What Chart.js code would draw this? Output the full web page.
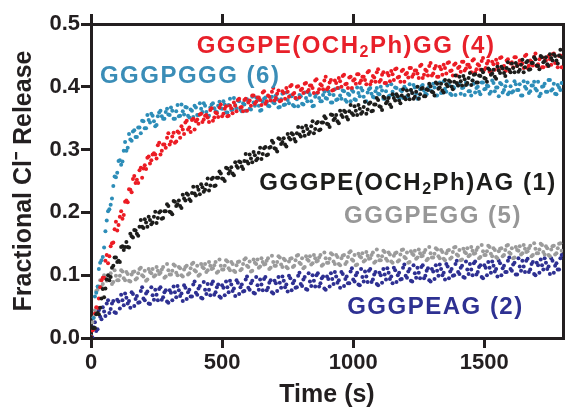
<!DOCTYPE html>
<html>
<head>
<meta charset="utf-8">
<script src="https://cdn.jsdelivr.net/npm/chart.js@4.4.0/dist/chart.umd.min.js"></script>
<style>
  html, body { margin: 0; padding: 0; background: #fff; }
  #c { display: block; }
</style>
</head>
<body>
<canvas id="c" width="567" height="411"></canvas>
<script>
// tempo (s) - primeira leitura
const timeS = [
  0,10,20,30,40,50,60,70,80,90,100,110,120,130,140,150,160,170,180,190,
  200,210,220,230,240,250,260,270,280,290,300,310,320,330,340,350,360,370,380,390,
  400,410,420,430,440,450,460,470,480,490,500,510,520,530,540,550,560,570,580,590,
  600,610,620,630,640,650,660,670,680,690,700,710,720,730,740,750,760,770,780,790,
  800,810,820,830,840,850,860,870,880,890,900,910,920,930,940,950,960,970,980,990,
  1000,1010,1020,1030,1040,1050,1060,1070,1080,1090,1100,1110,1120,1130,1140,1150,1160,1170,1180,1190,
  1200,1210,1220,1230,1240,1250,1260,1270,1280,1290,1300,1310,1320,1330,1340,1350,1360,1370,1380,1390,
  1400,1410,1420,1430,1440,1450,1460,1470,1480,1490,1500,1510,1520,1530,1540,1550,1560,1570,1580,1590,
  1600,1610,1620,1630,1640,1650,1660,1670,1680,1690,1700,1710,1720,1730,1740,1750,1760,1770,1780,1790
];

// tempo (s) - leitura intercalada
const timeS2 = [
  5,15,25,35,45,55,65,75,85,95,105,115,125,135,145,155,165,175,185,195,
  205,215,225,235,245,255,265,275,285,295,305,315,325,335,345,355,365,375,385,395,
  405,415,425,435,445,455,465,475,485,495,505,515,525,535,545,555,565,575,585,595,
  605,615,625,635,645,655,665,675,685,695,705,715,725,735,745,755,765,775,785,795,
  805,815,825,835,845,855,865,875,885,895,905,915,925,935,945,955,965,975,985,995,
  1005,1015,1025,1035,1045,1055,1065,1075,1085,1095,1105,1115,1125,1135,1145,1155,1165,1175,1185,1195,
  1205,1215,1225,1235,1245,1255,1265,1275,1285,1295,1305,1315,1325,1335,1345,1355,1365,1375,1385,1395,
  1405,1415,1425,1435,1445,1455,1465,1475,1485,1495,1505,1515,1525,1535,1545,1555,1565,1575,1585,1595,
  1605,1615,1625,1635,1645,1655,1665,1675,1685,1695,1705,1715,1725,1735,1745,1755,1765,1775,1785,1795
];

// GGGPGGG (6)
const releaseGGGPGGG = [
  0.003,0.032,0.072,0.110,0.124,0.144,0.187,0.205,0.222,0.257,0.263,0.283,0.281,0.312,0.303,0.316,0.329,0.320,0.335,0.326,
  0.345,0.334,0.347,0.357,0.345,0.339,0.359,0.353,0.349,0.365,0.355,0.362,0.349,0.371,0.354,0.361,0.368,0.354,0.364,0.352,
  0.367,0.355,0.365,0.374,0.360,0.354,0.372,0.366,0.360,0.376,0.365,0.372,0.359,0.381,0.364,0.371,0.378,0.364,0.374,0.362,
  0.377,0.364,0.375,0.383,0.370,0.363,0.381,0.375,0.369,0.384,0.374,0.380,0.368,0.389,0.372,0.379,0.386,0.371,0.382,0.369,
  0.385,0.372,0.382,0.391,0.377,0.370,0.389,0.382,0.377,0.392,0.381,0.388,0.375,0.396,0.380,0.386,0.394,0.379,0.389,0.377,
  0.392,0.379,0.390,0.398,0.384,0.377,0.396,0.389,0.383,0.398,0.388,0.394,0.381,0.402,0.386,0.392,0.399,0.384,0.395,0.382,
  0.397,0.384,0.395,0.403,0.389,0.382,0.401,0.394,0.388,0.403,0.393,0.399,0.386,0.407,0.391,0.397,0.404,0.389,0.400,0.387,
  0.402,0.389,0.399,0.407,0.393,0.386,0.405,0.398,0.392,0.407,0.396,0.402,0.389,0.410,0.393,0.399,0.406,0.391,0.401,0.388,
  0.401,0.393,0.404,0.395,0.386,0.409,0.397,0.390,0.402,0.408,0.394,0.385,0.400,0.405,0.392,0.411,0.396,0.389,0.403,0.395
];
const releaseGGGPGGG2 = [
  0.013,0.066,0.082,0.120,0.129,0.170,0.202,0.212,0.242,0.256,0.282,0.276,0.298,0.298,0.325,0.314,0.331,0.320,0.335,0.346,
  0.334,0.355,0.343,0.354,0.337,0.353,0.362,0.349,0.360,0.356,0.367,0.349,0.361,0.353,0.372,0.356,0.367,0.351,0.362,0.370,
  0.355,0.374,0.360,0.370,0.352,0.367,0.374,0.361,0.370,0.366,0.377,0.359,0.371,0.363,0.382,0.366,0.377,0.361,0.372,0.380,
  0.365,0.384,0.370,0.379,0.362,0.376,0.383,0.370,0.379,0.375,0.386,0.367,0.380,0.371,0.391,0.374,0.385,0.369,0.380,0.387,
  0.373,0.391,0.377,0.387,0.369,0.384,0.391,0.377,0.387,0.382,0.393,0.375,0.387,0.379,0.398,0.381,0.393,0.376,0.387,0.395,
  0.380,0.399,0.385,0.394,0.376,0.391,0.398,0.384,0.393,0.389,0.400,0.381,0.393,0.385,0.404,0.387,0.398,0.382,0.393,0.400,
  0.385,0.404,0.390,0.399,0.381,0.396,0.403,0.389,0.398,0.394,0.405,0.386,0.398,0.390,0.409,0.392,0.403,0.387,0.398,0.405,
  0.405,0.398,0.387,0.404,0.393,0.410,0.391,0.400,0.388,0.407,0.397,0.401,0.392,0.406,0.399,0.385,0.404,0.395,0.409,0.391,
  0.391,0.409,0.395,0.404,0.386,0.400,0.407,0.393,0.402,0.397,0.408,0.389,0.401,0.392,0.411,0.394,0.405,0.388,0.399,0.406
];

// GGGPE(OCH2Ph)GG (4)
const releaseBnGG = [
  0.002,0.014,0.049,0.063,0.092,0.096,0.132,0.130,0.151,0.173,0.171,0.193,0.190,0.217,0.216,0.236,0.253,0.247,0.247,0.271,
  0.270,0.269,0.289,0.283,0.294,0.286,0.311,0.298,0.308,0.319,0.308,0.321,0.311,0.329,0.319,0.332,0.343,0.332,0.328,0.349,
  0.345,0.341,0.357,0.348,0.355,0.344,0.366,0.351,0.358,0.367,0.353,0.365,0.353,0.370,0.358,0.370,0.379,0.367,0.361,0.381,
  0.375,0.370,0.386,0.376,0.383,0.371,0.393,0.377,0.384,0.392,0.378,0.389,0.377,0.393,0.381,0.392,0.401,0.388,0.382,0.401,
  0.395,0.390,0.406,0.395,0.402,0.390,0.412,0.396,0.402,0.410,0.396,0.407,0.394,0.410,0.398,0.409,0.417,0.404,0.398,0.416,
  0.410,0.405,0.420,0.410,0.416,0.404,0.425,0.409,0.415,0.423,0.408,0.419,0.406,0.422,0.409,0.420,0.428,0.415,0.408,0.427,
  0.420,0.415,0.430,0.420,0.426,0.414,0.435,0.419,0.425,0.433,0.418,0.429,0.416,0.432,0.419,0.430,0.438,0.425,0.418,0.437,
  0.430,0.424,0.440,0.429,0.435,0.423,0.444,0.428,0.434,0.441,0.427,0.437,0.424,0.440,0.427,0.437,0.446,0.432,0.425,0.444,
  0.437,0.431,0.447,0.436,0.442,0.430,0.451,0.434,0.440,0.448,0.433,0.444,0.431,0.446,0.433,0.444,0.452,0.438,0.431,0.450
];
const releaseBnGG2 = [
  0.012,0.039,0.048,0.081,0.096,0.123,0.119,0.146,0.152,0.185,0.180,0.202,0.196,0.219,0.237,0.232,0.258,0.252,0.267,0.255,
  0.275,0.287,0.278,0.292,0.292,0.307,0.292,0.308,0.303,0.326,0.313,0.327,0.313,0.327,0.337,0.325,0.346,0.335,0.347,0.332,
  0.348,0.356,0.344,0.354,0.351,0.363,0.346,0.359,0.352,0.372,0.357,0.369,0.354,0.366,0.375,0.361,0.381,0.368,0.379,0.362,
  0.378,0.386,0.373,0.383,0.379,0.391,0.373,0.386,0.378,0.398,0.382,0.394,0.378,0.390,0.398,0.384,0.403,0.390,0.400,0.383,
  0.397,0.405,0.392,0.402,0.398,0.410,0.391,0.404,0.396,0.416,0.399,0.411,0.395,0.406,0.414,0.400,0.419,0.405,0.415,0.398,
  0.412,0.420,0.406,0.416,0.411,0.423,0.404,0.417,0.408,0.428,0.411,0.423,0.406,0.418,0.425,0.411,0.429,0.416,0.425,0.408,
  0.422,0.430,0.416,0.426,0.421,0.433,0.414,0.427,0.418,0.438,0.421,0.433,0.416,0.428,0.435,0.421,0.439,0.426,0.435,0.418,
  0.432,0.440,0.426,0.435,0.431,0.442,0.423,0.436,0.427,0.446,0.430,0.441,0.424,0.436,0.443,0.428,0.447,0.433,0.442,0.425,
  0.439,0.447,0.433,0.442,0.437,0.449,0.430,0.442,0.434,0.453,0.436,0.448,0.431,0.442,0.449,0.435,0.453,0.439,0.449,0.431
];

// GGGPE(OCH2Ph)AG (1)
const releaseBnAG = [
  0.001,0.016,0.038,0.038,0.063,0.065,0.093,0.092,0.112,0.128,0.121,0.121,0.146,0.145,0.145,0.166,0.160,0.171,0.163,0.188,
  0.175,0.184,0.193,0.181,0.193,0.183,0.200,0.190,0.202,0.213,0.201,0.197,0.217,0.213,0.210,0.228,0.219,0.228,0.218,0.241,
  0.227,0.236,0.245,0.233,0.245,0.235,0.253,0.242,0.255,0.265,0.254,0.250,0.270,0.266,0.262,0.280,0.271,0.280,0.269,0.293,
  0.278,0.286,0.296,0.283,0.295,0.285,0.302,0.291,0.303,0.314,0.302,0.297,0.317,0.312,0.308,0.325,0.316,0.324,0.313,0.336,
  0.321,0.329,0.338,0.325,0.337,0.326,0.342,0.331,0.343,0.353,0.341,0.336,0.355,0.350,0.345,0.362,0.352,0.360,0.348,0.371,
  0.355,0.362,0.371,0.357,0.368,0.357,0.373,0.361,0.372,0.382,0.369,0.363,0.382,0.377,0.372,0.388,0.378,0.385,0.374,0.396,
  0.380,0.387,0.395,0.381,0.392,0.381,0.397,0.385,0.396,0.405,0.392,0.386,0.405,0.399,0.394,0.411,0.401,0.408,0.396,0.418,
  0.402,0.409,0.417,0.403,0.414,0.403,0.419,0.407,0.418,0.427,0.414,0.408,0.427,0.421,0.416,0.432,0.422,0.429,0.417,0.439,
  0.423,0.430,0.438,0.424,0.435,0.423,0.439,0.427,0.438,0.447,0.434,0.428,0.447,0.441,0.436,0.452,0.442,0.449,0.437,0.459
];
const releaseBnAG2 = [
  0.016,0.016,0.040,0.048,0.078,0.079,0.100,0.097,0.115,0.128,0.123,0.145,0.140,0.153,0.144,0.162,0.172,0.166,0.177,0.177,
  0.189,0.177,0.188,0.184,0.201,0.191,0.202,0.191,0.202,0.210,0.200,0.218,0.210,0.219,0.207,0.222,0.230,0.221,0.231,0.230,
  0.241,0.229,0.240,0.236,0.254,0.243,0.255,0.243,0.255,0.262,0.253,0.271,0.262,0.272,0.259,0.274,0.281,0.273,0.282,0.281,
  0.292,0.280,0.291,0.286,0.303,0.293,0.304,0.292,0.304,0.311,0.301,0.318,0.309,0.318,0.305,0.319,0.326,0.317,0.326,0.324,
  0.335,0.322,0.333,0.328,0.345,0.333,0.344,0.332,0.343,0.350,0.340,0.356,0.347,0.355,0.342,0.355,0.362,0.352,0.361,0.358,
  0.369,0.355,0.365,0.360,0.376,0.364,0.375,0.362,0.372,0.379,0.368,0.384,0.374,0.382,0.368,0.382,0.388,0.378,0.386,0.383,
  0.394,0.380,0.390,0.384,0.400,0.388,0.398,0.385,0.395,0.401,0.391,0.407,0.397,0.405,0.391,0.404,0.410,0.400,0.408,0.406,
  0.416,0.402,0.412,0.406,0.422,0.410,0.420,0.407,0.417,0.423,0.413,0.429,0.419,0.427,0.413,0.426,0.432,0.422,0.430,0.427,
  0.437,0.423,0.433,0.427,0.443,0.431,0.441,0.428,0.438,0.444,0.433,0.449,0.439,0.447,0.433,0.446,0.452,0.442,0.450,0.447
];

// GGGPEGG (5)
const releaseGGGPEGG = [
  0.002,0.033,0.075,0.082,0.082,0.100,0.091,0.098,0.086,0.108,0.092,0.099,0.106,0.092,0.102,0.090,0.105,0.093,0.103,0.112,
  0.098,0.091,0.110,0.103,0.098,0.113,0.102,0.109,0.096,0.118,0.101,0.107,0.115,0.100,0.111,0.098,0.113,0.101,0.111,0.120,
  0.106,0.099,0.118,0.111,0.105,0.121,0.110,0.116,0.104,0.125,0.109,0.115,0.122,0.108,0.118,0.105,0.121,0.108,0.118,0.127,
  0.113,0.106,0.125,0.118,0.112,0.127,0.117,0.123,0.110,0.131,0.115,0.121,0.128,0.113,0.124,0.111,0.126,0.113,0.124,0.132,
  0.118,0.111,0.130,0.123,0.117,0.132,0.122,0.128,0.115,0.136,0.120,0.126,0.133,0.118,0.129,0.116,0.131,0.118,0.129,0.138,
  0.123,0.116,0.134,0.128,0.122,0.137,0.126,0.132,0.120,0.141,0.124,0.130,0.137,0.123,0.133,0.120,0.135,0.122,0.133,0.141,
  0.127,0.120,0.138,0.132,0.126,0.141,0.130,0.136,0.124,0.145,0.128,0.134,0.141,0.127,0.137,0.124,0.139,0.126,0.137,0.145,
  0.131,0.124,0.142,0.135,0.130,0.145,0.134,0.140,0.127,0.148,0.132,0.138,0.145,0.130,0.140,0.127,0.142,0.130,0.140,0.148,
  0.134,0.127,0.145,0.139,0.133,0.148,0.137,0.143,0.130,0.151,0.135,0.141,0.148,0.133,0.143,0.130,0.146,0.133,0.143,0.151
];
const releaseGGGPEGG2 = [
  0.025,0.044,0.077,0.092,0.086,0.095,0.093,0.103,0.089,0.099,0.092,0.108,0.095,0.105,0.091,0.101,0.106,0.095,0.110,0.100,
  0.107,0.093,0.105,0.110,0.100,0.107,0.104,0.113,0.098,0.108,0.101,0.117,0.104,0.113,0.100,0.109,0.115,0.103,0.118,0.108,
  0.115,0.101,0.113,0.118,0.108,0.115,0.111,0.121,0.106,0.115,0.109,0.124,0.111,0.121,0.107,0.116,0.122,0.110,0.125,0.115,
  0.122,0.107,0.120,0.125,0.114,0.121,0.118,0.127,0.112,0.121,0.115,0.130,0.117,0.126,0.113,0.122,0.127,0.115,0.131,0.120,
  0.127,0.113,0.125,0.130,0.119,0.127,0.123,0.132,0.117,0.127,0.120,0.135,0.122,0.132,0.118,0.127,0.132,0.121,0.136,0.125,
  0.132,0.117,0.130,0.135,0.124,0.131,0.127,0.136,0.122,0.131,0.124,0.139,0.126,0.136,0.122,0.131,0.136,0.124,0.140,0.129,
  0.136,0.121,0.134,0.139,0.128,0.135,0.131,0.140,0.126,0.135,0.128,0.143,0.130,0.140,0.126,0.135,0.140,0.128,0.144,0.133,
  0.140,0.125,0.137,0.143,0.132,0.139,0.135,0.144,0.129,0.138,0.132,0.147,0.134,0.143,0.129,0.138,0.143,0.132,0.147,0.136,
  0.143,0.128,0.140,0.146,0.135,0.142,0.138,0.147,0.132,0.142,0.135,0.150,0.137,0.146,0.132,0.141,0.147,0.135,0.150,0.139
];

// GGGPEAG (2)
const releaseGGGPEAG = [
  0.000,0.017,0.011,0.044,0.030,0.042,0.055,0.040,0.055,0.041,0.061,0.047,0.060,0.071,0.055,0.048,0.070,0.062,0.056,0.075,
  0.063,0.071,0.055,0.081,0.061,0.069,0.078,0.061,0.073,0.058,0.076,0.060,0.073,0.083,0.067,0.059,0.080,0.073,0.066,0.085,
  0.072,0.079,0.064,0.089,0.070,0.077,0.086,0.069,0.081,0.066,0.084,0.068,0.081,0.091,0.075,0.067,0.088,0.081,0.074,0.093,
  0.080,0.087,0.072,0.097,0.077,0.085,0.094,0.076,0.088,0.073,0.091,0.075,0.088,0.098,0.081,0.074,0.095,0.087,0.080,0.099,
  0.086,0.093,0.078,0.103,0.083,0.091,0.100,0.082,0.095,0.079,0.098,0.082,0.094,0.105,0.088,0.080,0.102,0.094,0.087,0.106,
  0.093,0.100,0.085,0.110,0.090,0.098,0.107,0.089,0.101,0.086,0.104,0.088,0.101,0.111,0.094,0.087,0.108,0.100,0.093,0.112,
  0.099,0.106,0.091,0.116,0.096,0.104,0.113,0.095,0.107,0.092,0.110,0.094,0.107,0.117,0.100,0.093,0.114,0.106,0.099,0.118,
  0.105,0.112,0.097,0.122,0.102,0.109,0.119,0.101,0.113,0.097,0.116,0.100,0.112,0.122,0.106,0.098,0.119,0.111,0.105,0.123,
  0.110,0.117,0.101,0.127,0.107,0.114,0.123,0.105,0.118,0.102,0.120,0.104,0.116,0.127,0.110,0.102,0.123,0.115,0.109,0.127
];
const releaseGGGPEAG2 = [
  0.001,0.025,0.014,0.034,0.049,0.035,0.060,0.046,0.059,0.040,0.058,0.069,0.052,0.064,0.059,0.073,0.051,0.067,0.057,0.081,
  0.060,0.074,0.054,0.068,0.077,0.060,0.081,0.065,0.076,0.056,0.072,0.082,0.065,0.076,0.071,0.084,0.062,0.077,0.066,0.090,
  0.069,0.083,0.063,0.077,0.086,0.068,0.090,0.073,0.085,0.064,0.080,0.090,0.073,0.085,0.079,0.092,0.070,0.085,0.075,0.098,
  0.077,0.091,0.071,0.084,0.093,0.076,0.097,0.080,0.092,0.071,0.087,0.097,0.080,0.091,0.085,0.099,0.076,0.091,0.081,0.104,
  0.083,0.097,0.077,0.090,0.100,0.082,0.103,0.087,0.098,0.077,0.094,0.103,0.086,0.098,0.092,0.105,0.083,0.098,0.087,0.111,
  0.090,0.104,0.084,0.097,0.106,0.089,0.110,0.093,0.105,0.084,0.100,0.110,0.093,0.104,0.098,0.112,0.089,0.104,0.094,0.117,
  0.096,0.110,0.090,0.103,0.112,0.095,0.116,0.099,0.111,0.090,0.106,0.116,0.099,0.110,0.104,0.118,0.095,0.110,0.100,0.123,
  0.102,0.115,0.096,0.109,0.118,0.100,0.122,0.105,0.116,0.095,0.112,0.121,0.104,0.115,0.110,0.123,0.100,0.115,0.105,0.128,
  0.107,0.120,0.101,0.114,0.123,0.105,0.126,0.109,0.121,0.100,0.116,0.125,0.109,0.120,0.114,0.127,0.104,0.119,0.109,0.132
];

const xTicks = [0, 500, 1000, 1500];
const yTicks = [0, 0.1, 0.2, 0.3, 0.4, 0.5];

const axisColor = '#231f20';

// rótulos das curvas (texto, subscrito)
const curveLabels = [
  { parts: [['GGGPE(OCH', 0], ['2', 1], ['Ph)GG (4)', 0]], t: 403, v: 0.465, color: '#e8202a' },
  { parts: [['GGGPGGG (6)', 0]], t: 34, v: 0.416, color: '#3a8db7' },
  { parts: [['GGGPE(OCH', 0], ['2', 1], ['Ph)AG (1)', 0]], t: 642, v: 0.247, color: '#1d1d1b' },
  { parts: [['GGGPEGG (5)', 0]], t: 965, v: 0.193, color: '#979797' },
  { parts: [['GGGPEAG (2)', 0]], t: 977, v: 0.049, color: '#2e3192' }
];

function toPoints(values, times) {
  return values.map((v, i) => ({ x: times[i], y: v }));
}

function series(a, b) {
  return toPoints(a, timeS).concat(toPoints(b, timeS2));
}

const labelPlugin = {
  id: 'curveLabels',
  afterDatasetsDraw(chart) {
    const { ctx, scales: { x, y } } = chart;
    ctx.save();
    ctx.textBaseline = 'middle';
    ctx.textAlign = 'left';
    curveLabels.forEach(l => {
      let px = x.getPixelForValue(l.t);
      const py = y.getPixelForValue(l.v);
      ctx.fillStyle = l.color;
      l.parts.forEach(([txt, sub]) => {
        ctx.font = sub ? 'bold 16px "Liberation Sans", Arial, sans-serif' : 'bold 24px "Liberation Sans", Arial, sans-serif';
        ctx.letterSpacing = '1.5px';
        ctx.fillText(txt, px, sub ? py + 7 : py);
        px += ctx.measureText(txt).width;
      });
    });
    ctx.restore();
  }
};

const tickFont = { family: '"Liberation Sans", Arial, sans-serif', size: 22, weight: 'bold' };
const titleFont = { family: '"Liberation Sans", Arial, sans-serif', size: 25, weight: 'bold', lineHeight: 1.2 };

const ctx = document.getElementById('c').getContext('2d');
new Chart(ctx, {
  type: 'scatter',
  data: {
    datasets: [
      { label: 'GGGPE(OCH2Ph)AG (1)', data: series(releaseBnAG, releaseBnAG2), backgroundColor: '#1d1d1b' },
      { label: 'GGGPE(OCH2Ph)GG (4)', data: series(releaseBnGG, releaseBnGG2), backgroundColor: '#ec1c24' },
      { label: 'GGGPGGG (6)', data: series(releaseGGGPGGG, releaseGGGPGGG2), backgroundColor: '#2d8db8' },
      { label: 'GGGPEGG (5)', data: series(releaseGGGPEGG, releaseGGGPEGG2), backgroundColor: '#9b9b9b' },
      { label: 'GGGPEAG (2)', data: series(releaseGGGPEAG, releaseGGGPEAG2), backgroundColor: '#2e3092' }
    ]
  },
  options: {
    responsive: false,
    animation: false,
    devicePixelRatio: 1,
    layout: { padding: 0 },
    elements: { point: { radius: 2, borderWidth: 0, hoverRadius: 2 } },
    plugins: { legend: { display: false }, tooltip: { enabled: false } },
    scales: {
      x: {
        type: 'linear', position: 'bottom', min: 0, max: 1800,
        afterBuildTicks: s => { s.ticks = xTicks.map(v => ({ value: v })); },
        afterFit: s => { s.height = 73; },
        ticks: { font: tickFont, color: axisColor, padding: 2, maxRotation: 0, autoSkip: false, callback: v => String(v) },
        grid: { drawOnChartArea: false, tickLength: 10, color: axisColor, lineWidth: 3 },
        border: { color: axisColor, width: 3 },
        title: { display: true, text: 'Time (s)', font: titleFont, color: axisColor, padding: { top: 0, bottom: 1 } }
      },
      y: {
        type: 'linear', position: 'left', min: 0, max: 0.5,
        afterBuildTicks: s => { s.ticks = yTicks.map(v => ({ value: v })); },
        afterFit: s => { s.width = 91; },
        ticks: { font: tickFont, color: axisColor, padding: 1, callback: v => v.toFixed(1) },
        grid: { drawOnChartArea: false, tickLength: 10, color: axisColor, lineWidth: 3 },
        border: { color: axisColor, width: 3 },
        title: { display: true, text: 'Fractional Cl\u207B Release', font: titleFont, color: axisColor, padding: { top: 9, bottom: 0 } }
      },
      x2: {
        type: 'linear', position: 'top', min: 0, max: 1800,
        afterBuildTicks: s => { s.ticks = xTicks.map(v => ({ value: v })); },
        afterFit: s => { s.height = 24; },
        ticks: { display: false },
        grid: { drawOnChartArea: false, tickLength: 10, color: axisColor, lineWidth: 3 },
        border: { color: axisColor, width: 3 }
      },
      y2: {
        type: 'linear', position: 'right', min: 0, max: 0.5,
        afterFit: s => { s.width = 4; },
        ticks: { display: false },
        grid: { drawOnChartArea: false, drawTicks: false },
        border: { color: axisColor, width: 3 }
      }
    }
  },
  plugins: [labelPlugin]
});
</script>
</body>
</html>
